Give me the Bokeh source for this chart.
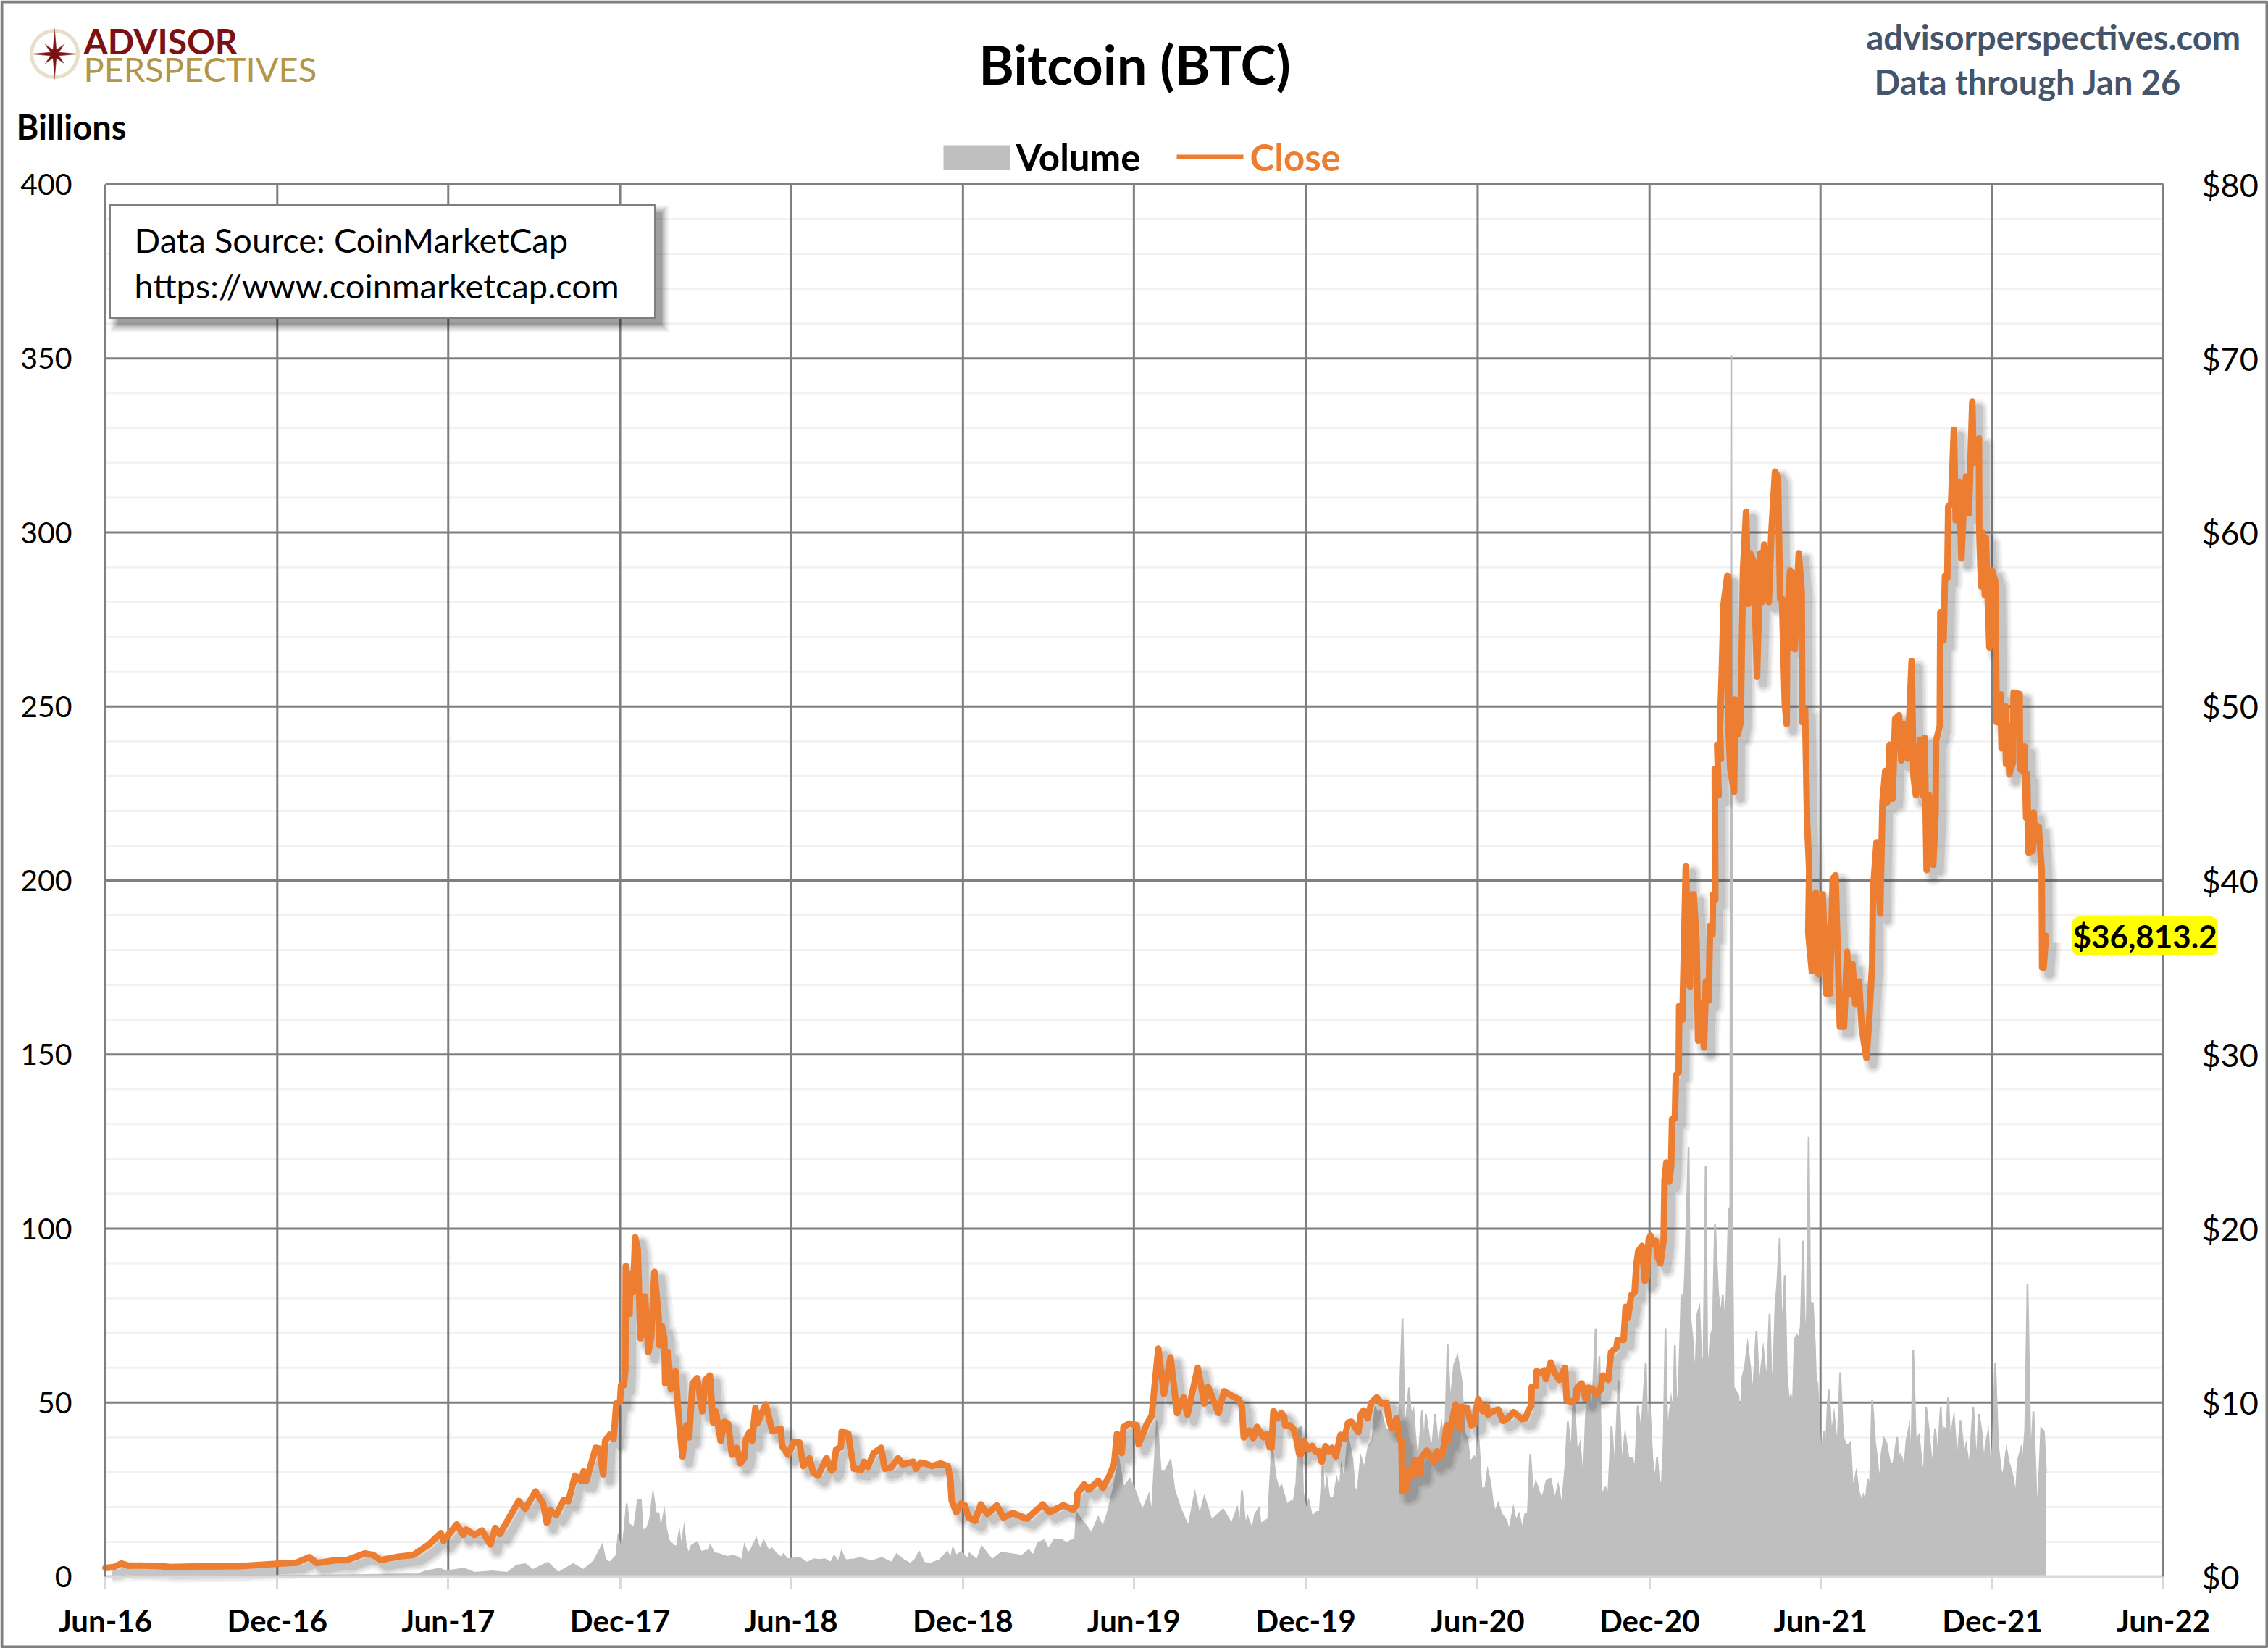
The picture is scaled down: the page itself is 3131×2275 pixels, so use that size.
import math
import numpy as np
from bokeh.embed import file_html
from bokeh.resources import INLINE
from bokeh.plotting import figure
from bokeh.models import (Range1d, LinearAxis, FixedTicker, DatetimeTickFormatter, Label,
                          BoxAnnotation, PolyAnnotation, NumeralTickFormatter)

# ---- chart data: (days since 1 Jun 2016, value) ----
START = "2016-06-01"
close_2016_17 = [(0,.5),(8.6,.55),(17,.76),(25,.62),(36,.64),(60,.6),(68,.55),(95,.58),(144,.6),(182,.74),(203,.8),
    (217,1.12),(225,.78),(247,.96),(257,.95),(276,1.33),(285,1.25),(293,.95),(312,1.15),(328,1.25),(344,1.83),
    (357,2.5),(360,2.05),(374,3.0),(381,2.4),(384,2.7),(393,2.4),(401,2.65),(410,1.85),(415,2.8),(420,2.45),
    (430,3.4),(440,4.35),(447,3.9),(458,4.9),(466,4.2),(470,3.1),(474,3.8),(480,3.55),(488,4.4),(493,4.35),
    (500,5.8),(507,5.5),(509,6.05),(512,5.5),(522,7.4),(526,7.35),(530,5.87),(532,7.8),(537,8.16),(541,7.9)]
close_2018 = [(544,9.95),(548,10.1),(549,11),(552,11),(553.6,11.9),(554,17.85),(558,15.1),(559,17.4),(562,16.35),
    (564,19.5),(566.7,18.85),(569.7,13.7),(574.5,16.1),(578,12.9),(581,13.7),(584.5,17.5),(589,14.95),(589.7,13.3),
    (592.5,14.4),(595,13.7),(596,11.1),(599,12.9),(602,10.8),(607,11.8),(609.5,9.8),(611,8.8),(614.4,6.9),(618.6,8.7),
    (621.5,8.0),(625,11.1),(630,11.4),(635.6,9.5),(639,11.3),(643.6,11.55),(647,8.85),(650,9.5),(655,7.8),(659,8.9),
    (663,8.8),(667,7.0),(672,7.4),(676,6.5),(680,6.8),(682,7.9),(685.7,8.3),(688.5,7.8),(692,9.7),(694,8.8),(703,9.9),
    (710,8.35),(719,8.5),(720.5,7.5),(727,7.0),(733,7.75),(739,7.7),(743,6.35),(749.6,6.8),(753.5,6.0),(758.6,5.8),
    (767.6,6.8),(772.7,6.1),(775,6.2),(777.9,7.3),(783,7.45),(784,8.35),(791,8.2),(793.5,7.25),(797,6.2),(805,6.15),
    (807.6,6.6),(811.6,6.3),(818,7.1),(825.9,7.4),(829.7,6.2),(837,6.3),(844,6.8),(849,6.45),(860,6.6),(863,6.2),
    (868,6.55),(873,6.5),(880,6.35),(889,6.5),(897,6.35),(899.6,5.6),(901,4.4),(906,3.7),(911,4.2),(915,4.1),(919,3.4),
    (926,3.2)]
close_2019 = [(932,4.15),(939,3.6),(949,4.1),(956,3.4),(966,3.65),(981,3.33),(998,4.15),(1005,3.7),(1020,4.1),
    (1030,3.85),(1034,4.1),(1035,4.8),(1042,5.3),(1047,5.0),(1057,5.5),(1062,5.1),(1069,5.8),(1074,6.5),(1077,8.2),
    (1082,7.1),(1084,8.6),(1090,8.8),(1098,8.7),(1100,7.6),(1109,8.8),(1114,9.25),(1121,13.1),(1127,10.5),(1134,12.6),
    (1141,9.4),(1148,10.3),(1152,9.3),(1163,12.0),(1170,9.95),(1174,10.9),(1185,9.4),(1191,10.65),(1199,10.4),
    (1206.5,10.2),(1210,9.8),(1212,8.0),(1218,8.4),(1222,7.96),(1226,8.6),(1229.3,8.3),(1233,8),(1236.5,8.2),
    (1239.5,7.45),(1241.5,7.4),(1243.6,9.5),(1248,9.1),(1252,9.4),(1255,9.2),(1256,8.7),(1260.6,8.7),(1265.3,8.45),
    (1268,7.9),(1271,7.05),(1273,7.05),(1276.2,7.8),(1280.5,7.3)]
close_2020 = [(1285,7.5),(1288,7.2),(1292,7.2),(1295,6.6),(1299,7.5),(1302.6,7.2),(1306,7.4),(1310,6.9),(1315,8.15),
    (1319,7.9),(1323,8.85),(1326.7,8.9),(1334,8.3),(1336.5,9.3),(1339.5,9.55),(1343.6,9.1),(1348,10.0),(1353.7,10.3),
    (1358.6,9.95),(1364,10.0),(1366,9.2),(1368.9,8.6),(1370,8.5),(1374.8,9.1),(1378,7.9),(1380,7.8),(1380.6,4.9),
    (1385,5.0),(1388.3,6.15),(1392,5.8),(1394,6.7),(1399,5.9),(1401,6.8),(1406.7,7.25),(1411,6.85),(1415,6.6),
    (1418,7.2),(1422,6.85),(1425,7.5),(1428,8.7),(1429.5,7.8),(1434,9.05),(1437.6,9.9),(1442,8.5),(1444,9.75),
    (1449.6,9.7),(1454,8.7),(1458,8.8),(1459,9.5),(1461.7,10.2),(1466.5,9.5),(1470.8,9.8),(1472,9.3),(1477.8,9.5),
    (1483,9.6),(1488,8.95),(1493,9.1),(1499,9.45),(1504,9.25),(1508,9.05),(1512,9.1),(1515,9.55),(1518,9.8),
    (1518.6,10.9),(1523,10.95),(1523.6,11.8),(1528,11.7),(1532,11.85),(1533.6,11.35),(1538.7,12.3),(1542,11.8),
    (1547.8,11.3),(1554,12.0),(1555.8,10.15),(1560.6,10.05),(1566,10.2),(1567.4,10.9),(1571.7,11.1),(1576,10.2),
    (1579,10.85),(1583,10.8),(1587,10.5),(1591.6,10.7),(1594,11.55),(1600,11.3),(1603,12.9),(1608.7,13.15),(1610,13.6),
    (1616.4,13.6),(1618.6,15.5),(1621,14.9),(1624.8,16.2),(1628,16.3),(1630,17.9),(1632,18.7),(1636,19.0),(1639,17.0),
    (1641,17.2),(1643,19.3),(1645,19.6),(1647,19.1),(1650.4,19.3),(1653,18.3),(1655.5,18.0),(1659,19.3)]
close_2021_a = [(1660,22.8),(1662,23.8),(1665,22.7),(1667,23.6),(1668,26.3),(1671,26.3),(1672,28.8),(1675,29),
    (1675.6,32.8),(1679,32),(1682.6,40.8),(1687,33.9),(1689,39.2),(1691,39.2),(1694,36.5),(1695.7,30.8),(1698.8,32.9),
    (1702,30.4),(1704,34.2),(1707,33.1),(1708.4,37.4),(1711,36.9),(1711.6,39.2),(1714,38.9),(1713.5,46.4),(1717.6,44.9),
    (1716,47.8),(1720,47.0),(1719,48.7),(1721,52.1),(1722.9,55.9),(1726.8,57.5),(1728,48.9),(1730,46.4),(1734,45.1),
    (1735,50.4),(1738,48.4),(1741,49.1),(1743.5,57.8),(1746.8,61.2),(1749,55.9),(1751,58.8),(1755,58.3),(1758.4,51.7),
    (1762,58.8),(1763.5,56),(1766,59.3),(1768,57.5),(1771,56),(1773.7,60),(1777.6,63.5),(1780.7,63.2),(1783,56.2),
    (1785,56.2),(1788,50.2),(1790,49),(1790.5,54.9),(1793.6,57.8),(1795,53.4),(1795.6,57.7),(1798.6,53.3),(1802.8,58.8),
    (1806,56.6),(1806.5,49.1),(1809.6,49.8),(1810.7,46.6),(1811.7,43.4),(1814,40.6),(1813,37),(1816.8,34.8),(1820.9,39.3),
    (1824,34.6),(1828.4,39.2),(1832,33.5),(1835,37.3),(1836,33.5),(1839,40.1),(1842,40.3),(1846.6,31.6)]
close_2021_b = [(1851,31.6),(1854.3,35.9),(1857.4,33.5),(1860,35.2),(1863,32.9),(1867,34.2),(1870,31.5),(1875,29.8),
    (1878,32.2),(1881,35.2),(1881.8,39.3),(1885.7,42.2),(1889.5,38.1),(1892,44.5),(1895,46.3),(1897,44.5),(1899.6,47.8),
    (1902.7,44.7),(1905.5,49.3),(1909.6,49.5),(1912,46.9),(1914.8,49),(1918.8,47),(1923,52.6),(1925,46),(1927.6,44.9),
    (1932,48.1),(1934.8,44.9),(1936.8,48.2),(1939,40.6),(1941.5,44.9),(1946,40.9),(1948.5,43.9),(1949,48),(1953,48.9),
    (1953.6,55.4),(1957,53.8),(1958.5,57.5),(1961,57.4),(1962,61.5),(1965,61.6),(1968,65.9),(1970,60.7),(1973.8,62.9),
    (1976,58.5),(1978,61),(1981,63.2),(1984,61.1),(1987.6,67.5),(1989,64),(1994.7,65.4),(1995,60.2),(1997,56.9),
    (1998.5,60),(2001,56.4),(2002,59.7),(2005.8,53.4),(2008.6,57.8),(2012,57.2),(2013.6,49.1),(2017.7,50.7),(2018.8,47.6),
    (2023,50),(2023.5,46.7),(2026,48.9),(2027,46.1),(2031,46.8),(2031.6,50.8),(2038,50.7),(2038.4,46.4),(2041,46.3),
    (2043,47.7),(2045,43.6),(2046,46.1),(2047.5,41.6),(2052,41.7),(2052.8,43.9),(2055,42.3),(2058.3,43.1),(2061.5,40.6),
    (2062,35),(2063.5,35),(2066,36.813)]
volume_2016_17 = [(0,.1),(100,.1),(200,.2),(290,.5),(333,.7),(341,1.5),(356,2.3),(363,1.5),(371,1.9),(382,2.3),(393,1.1),
    (412,1.5),(428,1.1),(438,3.2),(447,3.6),(455,1.9),(471,4),(482,1.1),(498,3.6),(509,1.9),(520,4.4),(529,9),(532,5),
    (537,4),(544,6),(546,11.3),(550,6.8),(553,14.4),(555,21),(558,13.7),(559,14.8),(563,14.1),(567,22),(570,22),(572,13)]
volume_2018 = [(577,14.1),(580,16.8),(583,23.8),(586,18.2),(589,18.2),(591,13),(595,18.6),(597,13.7),(600,10.2),(605.4,8.9),
    (608.5,8.5),(611,12.7),(613,8.2),(616,13.7),(618,8.9),(621,6.4),(624,8.9),(630,9.9),(634,7.1),(640,7.5),(642,6.4),
    (644,8.9),(648,6.8),(654,6.4),(662,5.7),(668,6),(675,5.4),(677.4,4.1),(680.5,8.9),(684,6.4),(688,8.1),(693,10.9),
    (696.7,7.8),(701,10.2),(706,7.5),(709.5,8.1),(715,6.4),(720,5.4),(722,6.4),(726,5),(739,5.4),(747,4),(754.5,5),
    (760,4.8),(766,5),(772.5,4),(776,6),(780,4),(783.6,7.1),(788,4.7),(798,5),(803.4,5.4),(816,4.4),(826.5,5.4),(837,4),
    (842.4,6.4),(850,4.7),(857,3.7),(862.5,5),(866.3,7.1),(871.5,4),(878,3.7),(888,4.7),(896.4,7.1),(900,5),(902.3,8.1),
    (906,6),(911,7.1),(918,5),(920,6.6),(928,4.7)]
volume_2019 = [(933,8.6),(944,4.8),(954,6.9),(976,6),(983,7.6),(988,6),(993,9.7),(999.5,10.5),(1004,7.8),(1010,10.5),
    (1018,10.5),(1023,9.7),(1032.5,10.9),(1034,18.2),(1045,14.3),(1050,12.4),(1057,17),(1062,14.3),(1067,18.2),(1073,25),
    (1079,33.4),(1084,25.4),(1090.5,28),(1096.4,24.6),(1104,18.9),(1111,23.5),(1114,17),(1119.6,44.9),(1123.5,30.4),
    (1128.4,30.4),(1134,33.4),(1138,25),(1144,20),(1153,14.3),(1160,23.9),(1165,17.4),(1170,22.8),(1177.6,16.2),(1190,19.3),
    (1199,15.1),(1205,19.6),(1208,14.1),(1210,24.8),(1214,14),(1216,17.2),(1221,13.4),(1224,17.9),(1228,19.6),(1230,14.8),
    (1233,15.8),(1238,16.5),(1239,22),(1242,37.3),(1246,28.3),(1250,24.8),(1252,26.2),(1255,23.4),(1258,20.7),(1262.5,21.7),
    (1265,21.4),(1268,26.9),(1270.5,42.5),(1273,42.9),(1275,24.1),(1278.5,18.9),(1281,21.7)]
volume_2020 = [(1285,16.8),(1288,18.2),(1290,18.6),(1293,18.6),(1296,31.8),(1297.6,22),(1300.5,27.6),(1303,22.7),(1307.6,22.4),
    (1311,28),(1314,24.8),(1316,31.4),(1319,26.9),(1323,40.1),(1327.6,33.8),(1330,25.5),(1333,24.1),(1336.7,34.2),(1340.4,31),
    (1344.7,37.3),(1349,39.4),(1352,48.4),(1354.7,47),(1357.6,47.7),(1363,42.5),(1367.5,42),(1373,40.8),(1377.5,46.7),
    (1381,74.1),(1383,45.6),(1385,45.3),(1388,54.3),(1390,46.3),(1392.6,48),(1396,35.2),(1399,37.3),(1401.8,47.7),(1404,35.9),
    (1405.8,46.7),(1410,38.7),(1413,38),(1415.5,46.7),(1419,37.3),(1422.6,43.6),(1426,35.9),(1429,66.8),(1431.7,49.1),(1436,60.9),
    (1439.4,63.3),(1443.7,56.4),(1447,41.5),(1450,39.4),(1453,32.8),(1457.4,34.5),(1460,32.5),(1462,39.4),(1465,25.5),(1469,25.2),
    (1471.7,30.4),(1474.5,26.9),(1477.4,20.7),(1480,18.6),(1483,21),(1486,18.2),(1491.6,16.1),(1494.5,13),(1499,19.6),(1501.6,15.8),
    (1505,17.9),(1508.7,13.4),(1511.6,17.9),(1514.5,18.2),(1517,35.2),(1520,23.4),(1523,27.2),(1526.7,24.1),(1530,22.7),(1534.4,27.6),
    (1538.7,28),(1543,22),(1546.7,26.2),(1550.7,20),(1554.4,31.8),(1557,44.6),(1561,34.5),(1563,54.3),(1567,34.5),(1570,38),
    (1573.5,25.9),(1576.4,47),(1580,52.6),(1583,47.7),(1586.6,71.3),(1588.6,48.4),(1590.6,63.3),(1593,23.4),(1597,25.5),(1600,23.1),
    (1603.5,43.2),(1607,29.7),(1611,56.4),(1614.3,31),(1618,40.8),(1621.5,34.2),(1625.7,34.2),(1628.6,29.7),(1631.4,49.1),(1635,40.8),
    (1640,61.5),(1642,37.7),(1644,49.6),(1647,33.9),(1650,27),(1652,34.4),(1654,27.8),(1657,25.7),(1659,37.7),(1661,71.4)]
volume_2021_a = [(1663,40.1),(1665,45.9),(1667,50.8),(1669,45.9),(1671,66.5),(1672.4,51.2),(1674.6,51.2),(1677,70.6),(1678,81.1),
    (1680,74.7),(1682,88),(1685.6,123.3),(1687,75.5),(1690,67.7),(1692.5,55.4),(1695,75.5),(1697,77.2),(1699.4,59.9),(1701.6,63.2),
    (1703.8,117.9),(1705.4,62.4),(1707.6,63.2),(1709,68.8),(1711.5,71.4),(1713.7,101.4),(1717,81.3),(1719.8,74.7),(1722,80.9),
    (1724.7,68.1),(1728.6,106.1),(1730,100),(1731,351),(1732,100),(1733.5,54.5),(1735,53.7),(1738.5,52),(1740.7,45.1),(1743,57.4),
    (1745.7,60.5),(1748.4,66.5),(1751,60.3),(1754,51.7),(1757.8,70.6),(1761,51.7),(1762,57.4),(1765,65.2),(1767,59.9),(1769,55.8),
    (1771.8,75.5),(1773.7,57.8),(1775.7,58),(1778,77.2),(1780,84.2),(1782.6,97.3),(1784.8,67.3),(1788,86.6),(1790,58.2),(1792.5,50),
    (1794.4,52),(1796.6,48.4),(1798.5,68.1),(1800.7,69.4),(1803,68.5),(1805,71.8),(1807.4,96.5),(1809.6,66.5),(1811.5,74.7),(1813.4,126.5),
    (1815,78.8),(1817.8,78.4),(1820,66.5),(1821.4,54.1),(1822.8,55),(1825.5,39.3),(1827.5,35.2),(1829.4,41.8),(1831.6,35.6),(1833.8,50),
    (1835,53.7),(1837.7,40.1),(1840.4,46.3),(1844,36.4),(1847,58.7),(1850,40.1),(1853,38),(1855,37.7),(1857.8,38.5),(1860,26.8)]
volume_2021_b = [(1862,26.8),(1864,29.7),(1867,24.1),(1869.6,21.6),(1871.5,23.3),(1873.7,20.8),(1876.5,28),(1878.4,22.4),(1881,50.8),
    (1884,38.9),(1886.7,32.7),(1889,26.1),(1891,35.2),(1893.6,39.7),(1896,38.5),(1899,33.9),(1901.8,31.9),(1904,33.1),(1906,37),(1907.6,40.1),
    (1909,33.6),(1911,35),(1912.8,34),(1915,30.3),(1917.5,38.9),(1920.5,43),(1922.5,29.4),(1924.7,65.2),(1927.4,38.9),(1930.7,40.5),(1934,31.9),
    (1936,29),(1938.4,48.8),(1941,42.6),(1945,30.7),(1948,42.6),(1951,33.9),(1954,48.8),(1956,36),(1958,42.6),(1960,42),(1962,51.7),(1964,38.5),
    (1968,45.9),(1971.5,32.3),(1975,45),(1979,34.8),(1981,37.7),(1984.4,30.7),(1988.6,48.8),(1992,30.7),(1994.6,46.7),(1997.6,41.4),(2000,31.9),
    (2001.8,37.7),(2004.5,41.4),(2006.7,31.5),(2009.5,37.3),(2012,61.5),(2015,37.7),(2018,30.7),(2020,28.2),(2024,36.4),(2026.6,32.7),(2028.8,30.7),
    (2031,28.2),(2034,22.9),(2036,33.1),(2039.5,36.8),(2041.4,32.3),(2044,42.6),(2046.4,84),(2049.7,32.3),(2052.7,47.5),(2056,22),(2058,23.3),
    (2061,42.6),(2063.8,41.8),(2066,29.8)]
x_tick_dates = ["2016-06-01","2016-12-01","2017-06-01","2017-12-01","2018-06-01","2018-12-01","2019-06-01","2019-12-01",
                "2020-06-01","2020-12-01","2021-06-01","2021-12-01","2022-06-01"]
volume_ticks = [0,50,100,150,200,250,300,350,400]
volume_minor = [10,20,30,40,60,70,80,90,110,120,130,140,160,170,180,190,210,220,230,240,260,270,280,290,310,320,330,340,360,370,380,390]
price_ticks = [0,10,20,30,40,50,60,70,80]
last_close_label = "$36,813.2"

# ---- layout (reference page pixels) ----
W, H = 3131, 2275
FL, FR, FT, FB = 145, 2986, 254, 2176
FONT = "Lato"
GRID, ORANGE, GREY, SLATE = "#7F7F7F", "#ED7D31", "#BFBFBF", "#44546A"
DAY = 86400000.0
t0 = np.datetime64(START, "ms").astype("int64").astype(float)
def to_ms(days):
    return t0 + np.asarray(days, dtype=float) * DAY
def sx(x): return x
def sy(y): return H - y

close_pts = close_2016_17 + close_2018 + close_2019 + close_2020 + close_2021_a + close_2021_b
vol_pts = sorted(volume_2016_17 + volume_2018 + volume_2019 + volume_2020 + volume_2021_a + volume_2021_b)
cd = [a for a, _ in close_pts]; cv = [b for _, b in close_pts]
vd = [a for a, _ in vol_pts]; vv = [b for _, b in vol_pts]
ticks_ms = [float(np.datetime64(s, "ms").astype("int64")) for s in x_tick_dates]

# the frame fills the canvas so that all annotations can sit anywhere; the plot area is set by the ranges
ms_per_px = (ticks_ms[-1] - ticks_ms[0]) / (FR - FL)
vol_per_px = volume_ticks[-1] / (FB - FT)
usd_per_px = price_ticks[-1] / (FB - FT)
p = figure(width=W, height=H, output_backend="svg", toolbar_location=None, x_axis_type="datetime",
           x_range=Range1d(ticks_ms[0] - FL * ms_per_px, ticks_ms[0] + (W - FL) * ms_per_px),
           y_range=Range1d(-(H - FB) * vol_per_px, FB * vol_per_px),
           min_border_left=0, min_border_right=0, min_border_top=0, min_border_bottom=0,
           background_fill_color="white", border_fill_color="white", outline_line_color=None)
p.extra_y_ranges = {"price": Range1d(-(H - FB) * usd_per_px, FB * usd_per_px)}
p.grid.visible = False

xa = p.xaxis[0]
xa.fixed_location = 0
xa.bounds = (ticks_ms[0], ticks_ms[-1])
xa.ticker = FixedTicker(ticks=ticks_ms)
fmt = "%b-%y"
xa.formatter = DatetimeTickFormatter(microseconds=fmt, milliseconds=fmt, seconds=fmt, minsec=fmt, minutes=fmt, hourmin=fmt,
                                     hours=fmt, days=fmt, months=fmt, years=fmt)
xa.axis_line_color = "#D9D9D9"; xa.axis_line_width = 4
xa.major_tick_line_color = "#D9D9D9"; xa.major_tick_line_width = 3
xa.major_tick_in = 0; xa.major_tick_out = 17; xa.minor_tick_line_color = None
xa.major_label_text_font = FONT; xa.major_label_text_font_size = "42px"; xa.major_label_text_font_style = "bold"
xa.major_label_text_color = "black"; xa.major_label_standoff = 18

ya = p.yaxis[0]
ya.fixed_location = ticks_ms[0]
ya.bounds = (0, 400)
ya.ticker = FixedTicker(ticks=volume_ticks)
ya.axis_line_color = GRID; ya.axis_line_width = 3
ya.major_tick_line_color = None; ya.minor_tick_line_color = None
ya.major_label_text_font = FONT; ya.major_label_text_font_size = "41px"; ya.major_label_text_color = "black"
ya.major_label_standoff = 40

ra = LinearAxis(y_range_name="price", ticker=FixedTicker(ticks=price_ticks), formatter=NumeralTickFormatter(format="$0"),
                fixed_location=ticks_ms[-1], bounds=(0, 80))
ra.axis_line_color = GRID; ra.axis_line_width = 3
ra.major_tick_line_color = None; ra.minor_tick_line_color = None
ra.major_label_text_font = FONT; ra.major_label_text_font_size = "45px"; ra.major_label_text_color = "black"
ra.major_label_standoff = 47
p.add_layout(ra, "right")

# grid lines bounded to the plot area
p.segment(x0=[ticks_ms[0]] * len(volume_minor), x1=[ticks_ms[-1]] * len(volume_minor), y0=volume_minor, y1=volume_minor,
          line_color="#F2F2F2", line_width=3)
p.segment(x0=[ticks_ms[0]] * (len(volume_ticks) - 1), x1=[ticks_ms[-1]] * (len(volume_ticks) - 1),
          y0=volume_ticks[1:], y1=volume_ticks[1:], line_color=GRID, line_width=3)
p.segment(x0=ticks_ms[1:-1], x1=ticks_ms[1:-1], y0=[0] * (len(ticks_ms) - 2), y1=[400] * (len(ticks_ms) - 2),
          line_color=GRID, line_width=3)

# volume area
vx = to_ms(vd)
p.varea(x=vx, y1=np.zeros(len(vv)), y2=vv, fill_color=GREY)
p.line(x=vx, y=vv, line_color=GREY, line_width=2.5, line_join="miter")

# soft drop shadow of the close line, then the line
cx = to_ms(cd); cy = np.asarray(cv)
off_x = 9 * ms_per_px; off_y = 9 * usd_per_px
for w, a in ((26, .05), (21, .07), (16, .09), (11, .13)):
    p.line(x=cx + off_x, y=cy - off_y, y_range_name="price", line_color="#404040", line_alpha=a, line_width=w, line_join="round")
p.line(x=cx, y=cy, y_range_name="price", line_color=ORANGE, line_width=9, line_join="round", line_cap="round")

# last value label
p.add_layout(Label(x=float(cx[-1]), y=cv[-1], y_range_name="price", x_offset=36, text=last_close_label, text_font=FONT,
                   text_font_size="44px", text_font_style="bold", text_color="black", text_baseline="middle",
                   background_fill_color="#FFFF00", border_radius=10, padding=1))

def txt(x, y, s, size, color="black", style="normal", align="left"):
    p.add_layout(Label(x=sx(x), y=sy(y), x_units="screen", y_units="screen", text=s, text_font=FONT, text_font_size=f"{size}px",
                       text_font_style=style, text_color=color, text_align=align, text_baseline="middle"))
def box(l, r, t, b, fill=None, alpha=1.0, line=None, lw=0):
    p.add_layout(BoxAnnotation(left=sx(l), right=sx(r), top=sy(t), bottom=sy(b), left_units="screen", right_units="screen",
                               top_units="screen", bottom_units="screen", fill_color=fill, fill_alpha=alpha if fill else 0,
                               line_color=line, line_width=lw, line_alpha=1 if line else 0))

txt(1566, 88, "Bitcoin (BTC)", 74, style="bold", align="center")

# data source box with a soft shadow
for grow, a in ((9, .06), (6, .09), (3, .12), (0, .16)):
    box(151 + 10 - grow, 904 + 10 + grow, 282 + 10 - grow, 439 + 10 + grow, fill="#000000", alpha=a)
box(151, 904, 282, 439, fill="white", line=GRID, lw=3)
txt(185, 330, "Data Source: CoinMarketCap", 47)
txt(185, 393, "https://www.coinmarketcap.com", 47)

# legend
box(1302, 1394, 200, 234, fill=GREY)
txt(1402, 216, "Volume", 51, style="bold")
box(1624, 1716, 213, 219, fill=ORANGE)
txt(1725, 216, "Close", 51, ORANGE, style="bold")

txt(22, 174, "Billions", 47, style="bold")
txt(2576, 50, "advisorperspectives.com", 47, SLATE, style="bold")
txt(2587, 112, "Data through Jan 26", 47, SLATE, style="bold")

# logo
CX, CY = 75, 74
ring = [(CX + 32 * math.cos(2 * math.pi * i / 72), CY + 32 * math.sin(2 * math.pi * i / 72)) for i in range(72)]
p.add_layout(PolyAnnotation(xs=[sx(a) for a, _ in ring], ys=[sy(b) for _, b in ring], xs_units="screen", ys_units="screen",
                            fill_alpha=0, line_color="#B2964A", line_width=5))
star = []
for i in range(16):
    ang = math.pi * i / 8
    r = 37 if i % 4 == 0 else (20 if i % 4 == 2 else 7)
    star.append((CX + r * math.sin(ang), CY - r * math.cos(ang)))
p.add_layout(PolyAnnotation(xs=[sx(a) for a, _ in star], ys=[sy(b) for _, b in star], xs_units="screen", ys_units="screen",
                            fill_color="#7B1113", fill_alpha=1, line_color="white", line_width=1.5))
txt(115, 56, "ADVISOR", 48, "#7B1113", style="bold")
txt(115, 94, "PERSPECTIVES", 47, "#B2964A")

# page border
box(2, W - 2, 2, H - 2, line=GRID, lw=4)

open("out.html", "w").write(file_html(p, INLINE))
